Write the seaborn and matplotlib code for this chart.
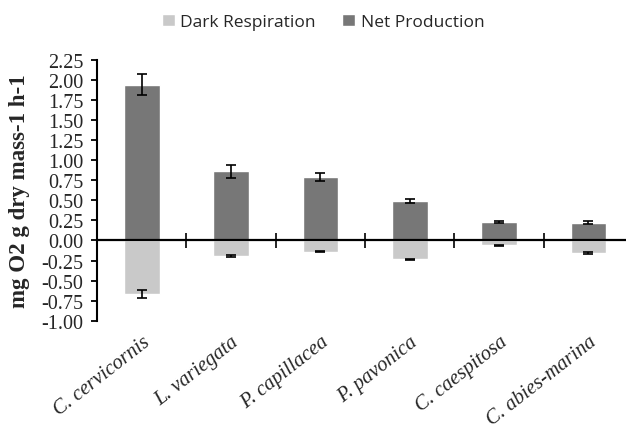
import pandas as pd
import seaborn as sns
import matplotlib.pyplot as plt
import numpy as np

# values
species = ["C. cervicornis", "L. variegata", "P. capillacea", "P. pavonica", "C. caespitosa", "C. abies-marina"]
net_production = [1.94, 0.86, 0.79, 0.49, 0.23, 0.22]
net_err = [0.13, 0.08, 0.05, 0.025, 0.01, 0.02]
dark_respiration = [-0.67, -0.195, -0.14, -0.235, -0.06, -0.16]
dark_err = [0.05, 0.01, 0.01, 0.01, 0.005, 0.01]
yticks = np.arange(-1.0, 2.26, 0.25)

df = pd.concat([
    pd.DataFrame({"species": species, "value": dark_respiration, "type": "Dark Respiration"}),
    pd.DataFrame({"species": species, "value": net_production, "type": "Net Production"}),
])

sns.set_style("white")
plt.rcParams["font.family"] = ["Liberation Serif", "DejaVu Serif"]

fig = plt.figure(figsize=(6.26, 4.31), dpi=100)
ax = fig.add_axes([0.155, 0.2535, 0.845, 0.6055])

sns.barplot(data=df, x="species", y="value", hue="type", dodge=False, width=0.4,
            palette={"Dark Respiration": "#c9c9c9", "Net Production": "#777777"},
            errorbar=None, ax=ax, saturation=1)

x = np.arange(len(species))
ax.errorbar(x, net_production, yerr=net_err, fmt="none", ecolor="black", elinewidth=1.2, capsize=3.5, capthick=1.2)
ax.errorbar(x, dark_respiration, yerr=dark_err, fmt="none", ecolor="black", elinewidth=1.2, capsize=3.5, capthick=1.2)

# zero line with category separators
ax.axhline(0, color="black", lw=1.6, zorder=3)
ax.vlines(x[:-1] + 0.5, -0.09, 0.09, color="black", lw=1.2, zorder=3)

ax.set_xlim(-0.5, 5.42)
ax.set_ylim(-1.0, 2.25)
ax.set_yticks(yticks)
ax.set_yticklabels([f"{v:.2f}" for v in yticks])
ax.tick_params(axis="y", direction="out", length=4, width=1.3, color="black", pad=6, left=True, labelsize=14.5)
ax.tick_params(axis="x", length=0, pad=8, labelsize=14.8)
ax.set_xticks(x)
ax.set_xticklabels(species, rotation=38, ha="right", rotation_mode="anchor", style="italic")

for s in ["top", "right", "bottom"]:
    ax.spines[s].set_visible(False)
ax.spines["left"].set_color("black")
ax.spines["left"].set_linewidth(1.5)

ax.set_xlabel("")
ax.set_ylabel("mg O2 g dry mass-1 h-1", fontweight="bold", fontsize=16.5, labelpad=8)

ax.legend(loc="center", bbox_to_anchor=(0.427, 1.145), ncol=2, frameon=False,
          handlelength=0.75, handleheight=0.75, handletextpad=0.3, columnspacing=1.55,
          prop={"family": "Open Sans", "size": 12.5})

fig.savefig("out.png", dpi=100)
